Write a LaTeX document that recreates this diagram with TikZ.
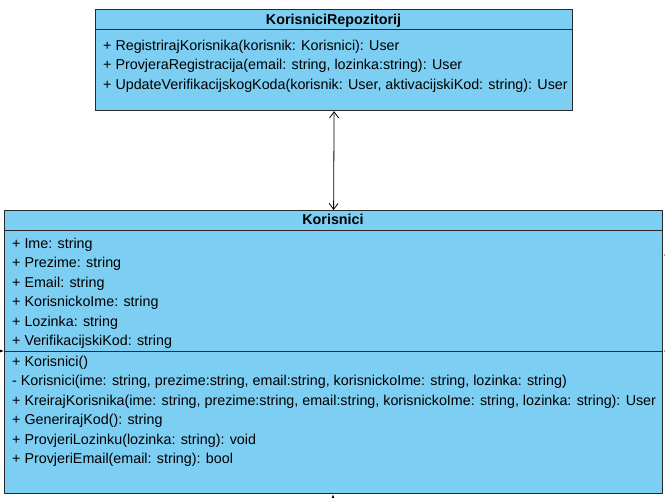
\documentclass[tikz,border=0pt]{standalone}
\usepackage{fontspec}
\setmainfont{Liberation Sans}
\usetikzlibrary{arrows.meta}
\definecolor{umlblue}{RGB}{124,206,243}
\definecolor{umlline}{RGB}{40,40,40}
\begin{document}
\begin{tikzpicture}[x=1pt,y=-1pt,
  classbox/.style={draw=umlline, line width=1.2pt, fill=umlblue, inner sep=0pt, anchor=north west},
  member/.style={anchor=base west, inner sep=0pt, font=\fontsize{14.3}{16}\selectfont},
  title/.style={anchor=base, inner sep=0pt, font=\fontsize{14.3}{16}\selectfont\bfseries},
  divider/.style={draw=umlline, line width=1pt},
  assoc/.style={draw=black, line width=0.8pt, {Straight Barb[length=6pt,width=9pt]}-{Straight Barb[length=6pt,width=9pt]}},
  stub/.style={draw=black, line width=0.8pt, -{Latex[length=5pt,width=4pt]}}]
\useasboundingbox (0,0) rectangle (665,498);
\fill[white] (0,0) rectangle (665,498);
% Repository class
\node[classbox, minimum width=477pt, minimum height=101pt] (repo) at (95,9) {};
\draw[divider] (95,29) -- (572,29);
\node[title] (repotitle) at (333.5,24) {KorisniciRepozitorij};
\node[member] (r1) at (103,50) {+ RegistrirajKorisnika(korisnik: Korisnici): User};
\node[member] (r2) at (103,69.5) {+ ProvjeraRegistracija(email: string, lozinka:string): User};
\node[member] (r3) at (103,89) {+ UpdateVerifikacijskogKoda(korisnik: User, aktivacijskiKod: string): User};
% Korisnici class
\node[classbox, minimum width=658pt, minimum height=283pt] (kor) at (4,210) {};
\draw[divider] (4,230) -- (662,230);
\draw[divider] (4,351) -- (662,351);
\node[title] (kortitle) at (333,224.5) {Korisnici};
\node[member] (a1) at (12,248) {+ Ime: string};
\node[member] (a2) at (12,267.5) {+ Prezime: string};
\node[member] (a3) at (12,287) {+ Email: string};
\node[member] (a4) at (12,306.5) {+ KorisnickoIme: string};
\node[member] (a5) at (12,326) {+ Lozinka: string};
\node[member] (a6) at (12,345) {+ VerifikacijskiKod: string};
\node[member] (m1) at (12,366) {+ Korisnici()};
\node[member] (m2) at (12,385.5) {- Korisnici(ime: string, prezime:string, email:string, korisnickoIme: string, lozinka: string)};
\node[member] (m3) at (12,405) {+ KreirajKorisnika(ime: string, prezime:string, email:string, korisnickoIme: string, lozinka: string): User};
\node[member] (m4) at (12,424.5) {+ GenerirajKod(): string};
\node[member] (m5) at (12,444) {+ ProvjeriLozinku(lozinka: string): void};
\node[member] (m6) at (12,463.5) {+ ProvjeriEmail(email: string): bool};
% association
\draw[assoc] (repo.south) -- (kor.north);
% cut-off connectors at the edges
\coordinate (e1) at (680,255);
\coordinate (e2) at (680,351);
\coordinate (w1) at (-15,351);
\coordinate (s1) at (333,515);
\draw[stub] (e1) -- (e1 -| kor.east);
\draw[stub] (e2) -- (e2 -| kor.east);
\draw[stub] (w1) -- (w1 -| kor.west);
\draw[stub] (s1) -- (s1 |- kor.south);
\end{tikzpicture}
\end{document}
